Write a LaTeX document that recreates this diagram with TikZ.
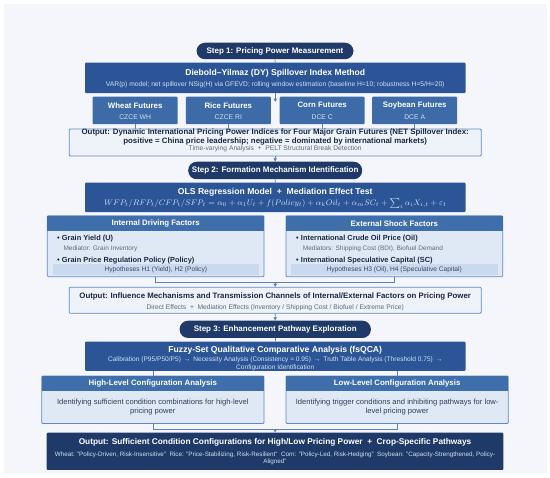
\documentclass[tikz,border=0pt]{standalone}
\usepackage{fontspec}
\setmainfont{Liberation Sans}
\usetikzlibrary{arrows.meta}
\definecolor{bgc}{HTML}{F4F6FB}
\definecolor{navy}{HTML}{1F3A68}
\definecolor{dyb}{HTML}{2B5597}
\definecolor{futb}{HTML}{3D6BA7}
\definecolor{ofill}{HTML}{EEF3FA}
\definecolor{obord}{HTML}{5E8AC4}
\definecolor{hdrb}{HTML}{3F6FAA}
\definecolor{bodyb}{HTML}{DFE9F6}
\definecolor{bandb}{HTML}{C9DAF0}
\definecolor{linec}{HTML}{5D80B5}
\definecolor{dtext}{HTML}{1B2740}
\definecolor{gtext}{HTML}{5F687A}
\definecolor{ltext}{HTML}{D3E0F2}
\tikzset{
  box/.style={rectangle, rounded corners=1pt, inner sep=0pt, align=center},
  pill/.style={box, rounded corners=8.5pt, fill=navy, text=white, font=\fontsize{8}{10}\selectfont\bfseries},
  darkbox/.style={box, fill=dyb},
  futbox/.style={box, fill=futb},
  outbox/.style={box, fill=ofill, draw=obord, line width=0.8pt},
  panel/.style={box, fill=bodyb, draw=obord, line width=0.8pt},
  hdr/.style={box, rounded corners=0pt, fill=hdrb},
  band/.style={box, rounded corners=0pt, fill=bandb},
  finalbox/.style={box, fill=navy},
  txt/.style={inner sep=0pt, align=center},
  wtitle/.style={txt, text=white, font=\fontsize{8.6}{10}\selectfont\bfseries},
  wsub/.style={txt, text=ltext, font=\fontsize{6.7}{7.8}\selectfont},
  ftitle/.style={txt, text=white, font=\fontsize{7.85}{9}\selectfont\bfseries},
  fsub/.style={txt, text=ltext, font=\fontsize{6.8}{8}\selectfont},
  otitle/.style={txt, text=dtext, font=\fontsize{7.85}{9}\selectfont\bfseries},
  osub/.style={txt, text=gtext, font=\fontsize{6.7}{8}\selectfont},
  htitle/.style={txt, text=white, font=\fontsize{7.85}{9}\selectfont\bfseries},
  bullet/.style={inner sep=0pt, anchor=west, text=dtext, font=\fontsize{7.4}{9}\selectfont\bfseries},
  medtxt/.style={inner sep=0pt, anchor=west, text=gtext, font=\fontsize{6.5}{8}\selectfont},
  bandtxt/.style={txt, text=dtext!85, font=\fontsize{6.65}{8}\selectfont},
  bodytxt/.style={txt, text=dtext!90, font=\fontsize{7.6}{9}\selectfont},
  conn/.style={draw=linec, line width=0.7pt},
  arr/.style={conn, -{Triangle[length=3.2pt,width=3.4pt]}}
}
\begin{document}
\begin{tikzpicture}[x=1pt,y=-1pt]
\useasboundingbox (0,0) rectangle (550,478);
\fill[bgc] (4,4) rectangle (546.5,473.5);

% ---------- Step 1 ----------
\node[pill, minimum width=157pt, minimum height=16.5pt] (step1) at (275,51) {Step 1: Pricing Power Measurement};
\node[darkbox, minimum width=380.5pt, minimum height=30.5pt] (dy) at (275.25,78) {};
\node[wtitle] (dyt) at (275.25,73.3) {Diebold–Yilmaz (DY) Spillover Index Method};
\node[wsub] (dys) at (275.25,85.2) {VAR(p) model; net spillover NSig(H) via GFEVD; rolling window estimation (baseline H=10; robustness H=5/H=20)};

\foreach \n/\cx/\t/\c in {wheat/135.2/Wheat Futures/CZCE WH, rice/228.3/Rice Futures/CZCE RI, corn/322.2/Corn Futures/DCE C, soy/414.7/Soybean Futures/DCE A}{
  \node[futbox, minimum width=85pt, minimum height=27.5pt] (\n) at (\cx,110.5) {};
  \node[ftitle] (\n t) at (\cx,105.3) {\t};
  \node[fsub] (\n c) at (\cx,117.4) {\c};
}
\coordinate (futtip) at (275.25,101.8);

\node[outbox, minimum width=412pt, minimum height=27pt] (out1) at (275.2,142.5) {};
\node[otitle] (out1t) at (275.2,137.2) {Output: Dynamic International Pricing Power Indices for Four Major Grain Futures (NET Spillover Index:\\[-0.2pt]positive = China price leadership; negative = dominated by international markets)};
\node[osub] (out1s) at (275.2,148.6) {Time-varying Analysis \ + \ PELT Structural Break Detection};

% ---------- Step 2 ----------
\node[pill, minimum width=174pt, minimum height=17.5pt] (step2) at (275.2,170.5) {Step 2: Formation Mechanism Identification};
\node[darkbox, minimum width=380.5pt, minimum height=29.5pt] (ols) at (275.25,197.5) {};
\node[wtitle] (olst) at (275.25,192.2) {OLS Regression Model \ + \ Mediation Effect Test};
\node[txt, text=ltext, font=\fontsize{8}{9}\selectfont] (olsf) at (275.25,203.6) {$WFP_t/RFP_t/CFP_t/SFP_t=\alpha_0+\alpha_1U_t+f(Policy_t)+\alpha_kOil_t+\alpha_mSC_t+\sum_i\alpha_iX_{i,t}+\varepsilon_t$};

% internal panel
\node[panel, minimum width=216.7pt, minimum height=61pt] (intp) at (155.65,246.2) {};
\node[hdr, minimum width=216.7pt, minimum height=15.3pt] (inth) at (155.65,223.35) {};
\node[htitle] (intht) at (155.65,223.4) {Internal Driving Factors};
\node[band, minimum width=206.3pt, minimum height=10.7pt] (intb) at (155.85,269.65) {};
\node[bandtxt] (intbt) at (155.85,269.8) {Hypotheses H1 (Yield), H2 (Policy)};
\node[bullet] (intb1) at (56.8,238.4) {•\hspace{2.4pt}Grain Yield (U)};
\node[medtxt] (intm1) at (63.3,248.7) {Mediator: Grain Inventory};
\node[bullet] (intb2) at (56.8,260.2) {•\hspace{2.4pt}Grain Price Regulation Policy (Policy)};

% external panel
\node[panel, minimum width=216.7pt, minimum height=61pt] (extp) at (394.35,246.2) {};
\node[hdr, minimum width=216.7pt, minimum height=15.3pt] (exth) at (394.35,223.35) {};
\node[htitle] (extht) at (394.35,223.4) {External Shock Factors};
\node[band, minimum width=207pt, minimum height=10.7pt] (extb) at (394.2,269.65) {};
\node[bandtxt] (extbt) at (394.2,269.8) {Hypotheses H3 (Oil), H4 (Speculative Capital)};
\node[bullet] (extb1) at (295.8,238.4) {•\hspace{2.4pt}International Crude Oil Price (Oil)};
\node[medtxt] (extm1) at (302.7,248.7) {Mediators: Shipping Cost (BDI), Biofuel Demand};
\node[bullet] (extb2) at (295.8,260.2) {•\hspace{2.4pt}International Speculative Capital (SC)};

\coordinate (j2) at (275.2,282.3);
\node[outbox, minimum width=412pt, minimum height=26pt] (out2) at (275.2,300.3) {};
\node[otitle] (out2t) at (275.2,296) {Output: Influence Mechanisms and Transmission Channels of Internal/External Factors on Pricing Power};
\node[osub] (out2s) at (275.2,308) {Direct Effects \ + \ Mediation Effects (Inventory / Shipping Cost / Biofuel / Extreme Price)};

% ---------- Step 3 ----------
\node[pill, minimum width=191.3pt, minimum height=17.3pt] (step3) at (275.25,329.35) {Step 3: Enhancement Pathway Exploration};
\node[darkbox, minimum width=380.5pt, minimum height=29.3pt] (fs) at (275.25,356.35) {};
\node[wtitle] (fst) at (275.25,350.7) {Fuzzy-Set Qualitative Comparative Analysis (fsQCA)};
\node[wsub, font=\fontsize{6.6}{7.7}\selectfont] (fss) at (275.25,364) {Calibration (P95/P50/P5) \,→\, Necessity Analysis (Consistency = 0.95) \,→\, Truth Table Analysis (Threshold 0.75) \,→\\Configuration Identification};

\node[panel, minimum width=222.3pt, minimum height=47.5pt] (high) at (152.85,399.75) {};
\node[hdr, minimum width=222.3pt, minimum height=15pt] (highh) at (152.85,383.5) {};
\node[htitle] (highht) at (152.85,383.4) {High-Level Configuration Analysis};
\node[bodytxt] (highb) at (152.85,407.2) {Identifying sufficient condition combinations for high-level\\pricing power};

\node[panel, minimum width=222.3pt, minimum height=47.5pt] (low) at (397.15,399.75) {};
\node[hdr, minimum width=222.3pt, minimum height=15pt] (lowh) at (397.15,383.5) {};
\node[htitle] (lowht) at (397.15,383.4) {Low-Level Configuration Analysis};
\node[bodytxt] (lowb) at (397.15,407.2) {Identifying trigger conditions and inhibiting pathways for low-\\level pricing power};

\coordinate (j3) at (275.2,429);
\node[finalbox, minimum width=456.6pt, minimum height=37.3pt] (fin) at (275,451.35) {};
\node[wtitle, font=\fontsize{8.3}{9}\selectfont\bfseries] (fint) at (275,442.3) {Output: Sufficient Condition Configurations for High/Low Pricing Power \ + \ Crop-Specific Pathways};
\node[wsub, font=\fontsize{6.3}{7}\selectfont] (fins) at (275,458.8) {Wheat: "Policy-Driven, Risk-Insensitive" \ Rice: "Price-Stabilizing, Risk-Resilient" \ Corn: "Policy-Led, Risk-Hedging" \ Soybean: "Capacity-Strengthened, Policy-\\Aligned"};

% ---------- connectors ----------
\draw[conn] (step1.south) -- (dy.north);
\draw[arr] (dy.south) -- (futtip);
\foreach \n in {wheat,rice,corn,soy}{ \draw[conn] (\n.south) -- (\n.south |- out1.north); }
\draw[arr] (out1.south) -- (step2.north);
\draw[conn] (step2.south) -- (ols.north);
\draw[conn] (intp.south) -- (intp.south |- j2) -- (extp.south |- j2) -- (extp.south);
\draw[arr] (j2) -- (out2.north);
\draw[arr] (out2.south) -- (step3.north);
\draw[conn] (step3.south) -- (fs.north);
\draw[conn] (fs.south -| high.north) -- (high.north);
\draw[conn] (fs.south -| low.north) -- (low.north);
\draw[conn] (high.south) -- (high.south |- j3) -- (low.south |- j3) -- (low.south);
\draw[arr] (j3) -- (fin.north);
\end{tikzpicture}
\end{document}
